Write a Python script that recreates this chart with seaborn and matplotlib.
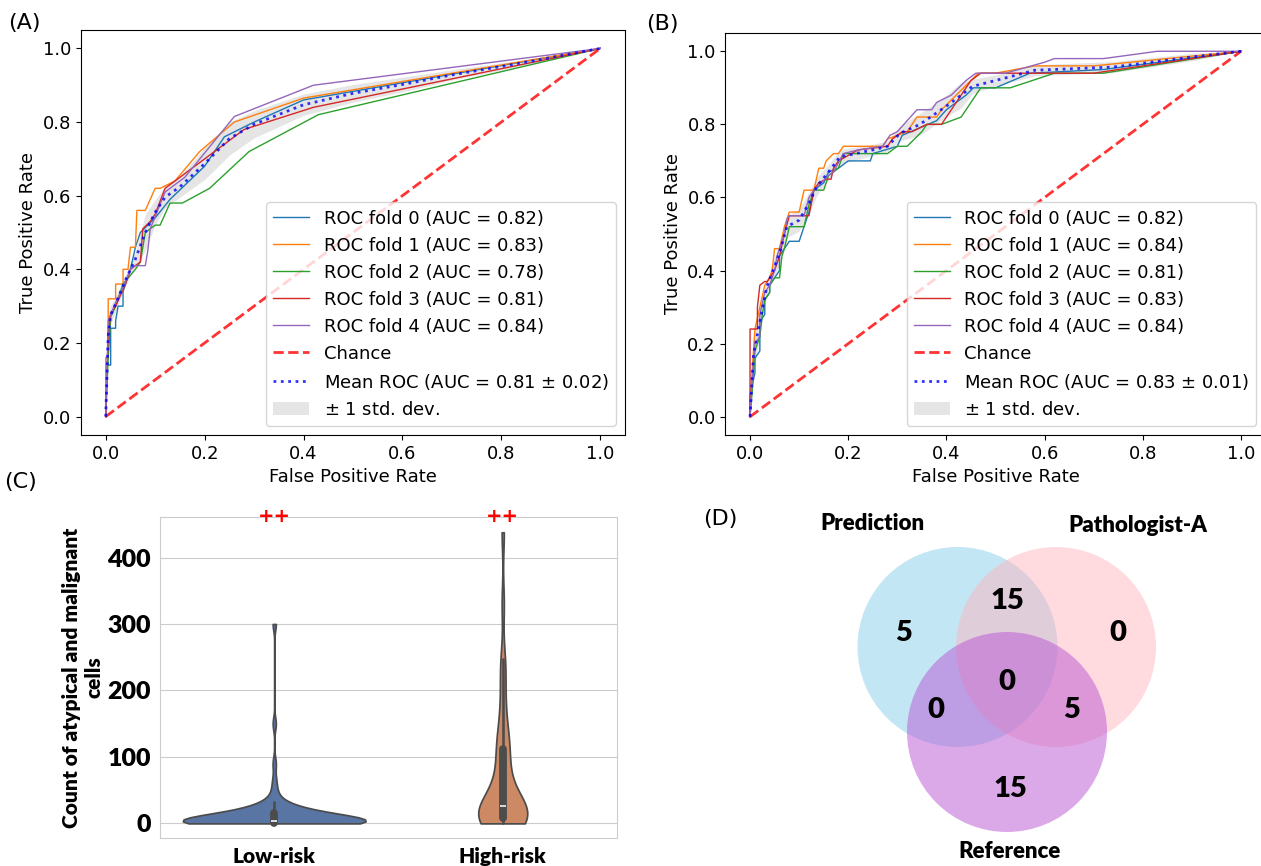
import numpy as np
import pandas as pd
import matplotlib
matplotlib.use("Agg")
import matplotlib.pyplot as plt
import matplotlib.transforms as mtransforms
from matplotlib.patches import Circle
import seaborn as sns

# ---------------- (A) ROC curves, 5 folds ----------------
auc_a = [0.82, 0.83, 0.78, 0.81, 0.84]
fpr_a = [
    [0, 0, 0.01, 0.01, 0.02, 0.02, 0.025, 0.035, 0.035, 0.05, 0.06, 0.07, 0.10, 0.13, 0.20, 0.24, 0.30, 0.40, 1.0],
    [0, 0, 0.005, 0.005, 0.02, 0.02, 0.035, 0.035, 0.045, 0.05, 0.06, 0.063, 0.08, 0.10, 0.11, 0.14, 0.19, 0.26, 0.40, 1.0],
    [0, 0.005, 0.01, 0.02, 0.035, 0.06, 0.07, 0.08, 0.10, 0.11, 0.13, 0.155, 0.21, 0.29, 0.43, 1.0],
    [0, 0.005, 0.01, 0.02, 0.03, 0.04, 0.05, 0.07, 0.075, 0.09, 0.10, 0.12, 0.15, 0.20, 0.28, 0.42, 1.0],
    [0, 0.005, 0.02, 0.035, 0.05, 0.06, 0.08, 0.085, 0.09, 0.12, 0.16, 0.26, 0.42, 1.0],
]
tpr_a = [
    [0, 0.14, 0.14, 0.24, 0.24, 0.26, 0.30, 0.30, 0.34, 0.40, 0.46, 0.50, 0.54, 0.59, 0.68, 0.76, 0.80, 0.86, 1.0],
    [0, 0.16, 0.16, 0.32, 0.32, 0.36, 0.36, 0.40, 0.40, 0.46, 0.46, 0.56, 0.56, 0.62, 0.62, 0.64, 0.72, 0.80, 0.865, 1.0],
    [0, 0.16, 0.27, 0.30, 0.36, 0.40, 0.42, 0.50, 0.52, 0.52, 0.58, 0.58, 0.62, 0.72, 0.82, 1.0],
    [0, 0.22, 0.28, 0.30, 0.33, 0.36, 0.40, 0.42, 0.51, 0.53, 0.55, 0.62, 0.65, 0.70, 0.78, 0.84, 1.0],
    [0, 0.26, 0.31, 0.35, 0.40, 0.41, 0.41, 0.45, 0.51, 0.61, 0.65, 0.815, 0.90, 1.0],
]
mean_fpr_a = [0, 0.005, 0.01, 0.02, 0.04, 0.06, 0.08, 0.10, 0.12, 0.15, 0.20, 0.25, 0.30,
              0.40, 0.50, 0.60, 0.70, 0.80, 0.90, 1.0]
mean_tpr_a = [0, 0.22, 0.276, 0.306, 0.371, 0.428, 0.50, 0.555, 0.596, 0.624, 0.687, 0.755, 0.794,
              0.847, 0.878, 0.902, 0.928, 0.951, 0.975, 1.0]
std_tpr_a = [0, 0.06, 0.026, 0.02, 0.015, 0.02, 0.05, 0.034, 0.03, 0.028, 0.043, 0.045, 0.037,
             0.029, 0.024, 0.02, 0.014, 0.01, 0.005, 0]
mean_auc_a = ("0.81", "0.02")

# ---------------- (B) ROC curves, 5 folds ----------------
auc_b = [0.82, 0.84, 0.81, 0.83, 0.84]
fpr_b = [
    [0, 0, 0.01, 0.01, 0.02, 0.02, 0.03, 0.03, 0.04, 0.04, 0.05, 0.06, 0.06, 0.07, 0.08, 0.10, 0.11,
     0.12, 0.13, 0.15, 0.16, 0.18, 0.20, 0.245, 0.25, 0.30, 0.31, 0.38, 0.40, 0.44, 0.455, 0.50, 0.57, 0.72, 1.0],
    [0, 0.005, 0.01, 0.02, 0.03, 0.04, 0.045, 0.05, 0.06, 0.07, 0.075, 0.08, 0.10, 0.11, 0.13, 0.14,
     0.15, 0.155, 0.17, 0.18, 0.19, 0.27, 0.28, 0.32, 0.34, 0.38, 0.39, 0.42, 0.45, 0.465, 0.50, 0.58, 0.70, 1.0],
    [0, 0.005, 0.01, 0.02, 0.025, 0.03, 0.04, 0.04, 0.05, 0.06, 0.065, 0.07, 0.08, 0.11, 0.12, 0.13,
     0.15, 0.16, 0.18, 0.19, 0.28, 0.30, 0.32, 0.35, 0.36, 0.39, 0.43, 0.47, 0.53, 0.62, 0.72, 1.0],
    [0, 0, 0.015, 0.015, 0.02, 0.03, 0.035, 0.04, 0.05, 0.06, 0.07, 0.08, 0.12, 0.13, 0.14, 0.155,
     0.165, 0.17, 0.18, 0.22, 0.28, 0.29, 0.31, 0.33, 0.36, 0.39, 0.42, 0.45, 0.47, 0.58, 0.70, 1.0],
    [0, 0.005, 0.01, 0.02, 0.02, 0.03, 0.04, 0.05, 0.055, 0.06, 0.07, 0.075, 0.08, 0.11, 0.12, 0.13,
     0.16, 0.17, 0.19, 0.22, 0.27, 0.285, 0.30, 0.34, 0.37, 0.38, 0.41, 0.44, 0.46, 0.52, 0.60, 0.62,
     0.72, 0.83, 1.0],
]
tpr_b = [
    [0, 0.06, 0.12, 0.16, 0.18, 0.26, 0.28, 0.32, 0.34, 0.36, 0.38, 0.40, 0.44, 0.46, 0.48, 0.48, 0.52,
     0.56, 0.62, 0.64, 0.67, 0.68, 0.70, 0.70, 0.72, 0.74, 0.77, 0.81, 0.84, 0.88, 0.90, 0.90, 0.94, 0.95, 1.0],
    [0, 0.14, 0.24, 0.30, 0.36, 0.38, 0.40, 0.46, 0.46, 0.52, 0.54, 0.56, 0.56, 0.62, 0.62, 0.68,
     0.68, 0.70, 0.72, 0.72, 0.74, 0.74, 0.76, 0.78, 0.82, 0.82, 0.84, 0.88, 0.92, 0.94, 0.94, 0.96, 0.96, 1.0],
    [0, 0.08, 0.18, 0.22, 0.28, 0.32, 0.34, 0.36, 0.38, 0.38, 0.44, 0.46, 0.52, 0.52, 0.58, 0.62,
     0.62, 0.66, 0.68, 0.72, 0.72, 0.74, 0.74, 0.78, 0.80, 0.80, 0.82, 0.90, 0.90, 0.94, 0.94, 1.0],
    [0, 0.24, 0.24, 0.30, 0.36, 0.37, 0.37, 0.38, 0.40, 0.44, 0.50, 0.55, 0.55, 0.62, 0.64, 0.65,
     0.65, 0.68, 0.70, 0.73, 0.74, 0.76, 0.78, 0.78, 0.80, 0.80, 0.86, 0.92, 0.94, 0.94, 0.94, 1.0],
    [0, 0.12, 0.20, 0.22, 0.28, 0.34, 0.36, 0.40, 0.44, 0.46, 0.50, 0.54, 0.55, 0.55, 0.60, 0.62,
     0.66, 0.67, 0.72, 0.73, 0.74, 0.77, 0.78, 0.84, 0.84, 0.86, 0.88, 0.92, 0.94, 0.94, 0.97, 0.98,
     0.98, 1.0, 1.0],
]
mean_fpr_b = [0, 0.007, 0.02, 0.034, 0.06, 0.075, 0.10, 0.12, 0.136, 0.163, 0.183, 0.25, 0.28,
              0.305, 0.346, 0.373, 0.40, 0.43, 0.453, 0.50, 0.58, 0.74, 0.905, 1.0]
mean_tpr_b = [0, 0.17, 0.26, 0.355, 0.447, 0.52, 0.538, 0.584, 0.63, 0.675, 0.711, 0.73, 0.74,
              0.775, 0.80, 0.825, 0.85, 0.88, 0.904, 0.92, 0.948, 0.957, 0.985, 1.0]
std_tpr_b = [0, 0.05, 0.04, 0.02, 0.03, 0.03, 0.03, 0.03, 0.025, 0.02, 0.02, 0.015, 0.015,
             0.02, 0.03, 0.03, 0.03, 0.035, 0.02, 0.015, 0.015, 0.015, 0.01, 0]
mean_auc_b = ("0.83", "0.01")

# ---------------- (C) violin data ----------------
risk_groups = ["Low-risk", "High-risk"]
low_values = [0, 1, 2, 3, 4, 5, 7, 9, 12, 15, 18, 21, 25, 28, 32, 40, 50, 65, 90, 150, 300]
low_counts = [18, 8, 6, 5, 5, 4, 4, 4, 4, 4, 3, 3, 2, 2, 1, 1, 1, 1, 1, 1, 1]
high_values = [0, 0, 1, 2, 3, 3, 4, 5, 6, 7,
               8, 9, 10, 12, 14, 16, 18, 20, 22, 24,
               28, 32, 38, 45, 52, 60, 70, 80, 95, 110,
               115, 120, 130, 150, 170, 200, 230, 248, 330, 438]
sig_marks = ["++", "++"]

# ---------------- (D) Venn counts ----------------
venn_sets = ["Prediction", "Pathologist-A", "Reference"]
venn_counts = {"100": 5, "110": 15, "010": 0, "111": 0, "101": 0, "011": 5, "001": 15}


def draw_roc(ax, fprs, tprs, aucs, mfpr, mtpr, stpr, mauc):
    colors = sns.color_palette("tab10")
    for i, (f, t, a) in enumerate(zip(fprs, tprs, aucs)):
        sns.lineplot(x=f, y=t, ax=ax, sort=False, estimator=None, color=colors[i],
                     lw=1, label=f"ROC fold {i} (AUC = {a:.2f})")
    ax.plot([0, 1], [0, 1], linestyle="--", lw=2, color="r", alpha=0.8, label="Chance")
    mtpr = np.array(mtpr)
    stpr = np.array(stpr)
    ax.plot(mfpr, mtpr, color="b", linestyle=":", lw=2, alpha=0.8,
            label=f"Mean ROC (AUC = {mauc[0]} $\\pm$ {mauc[1]})")
    upper = np.minimum(mtpr + stpr, 1)
    lower = np.maximum(mtpr - stpr, 0)
    ax.fill_between(mfpr, lower, upper, color="grey", alpha=0.2, lw=0,
                    label=r"$\pm$ 1 std. dev.")
    ax.set_xlim(-0.05, 1.05)
    ax.set_ylim(-0.05, 1.05)
    ax.set_xticks(np.arange(0, 1.01, 0.2))
    ax.set_yticks(np.arange(0, 1.01, 0.2))
    ax.tick_params(labelsize=13)
    ax.set_xlabel("False Positive Rate", fontsize=13)
    ax.set_ylabel("True Positive Rate", fontsize=13)
    ax.legend(loc="lower right", fontsize=13)


plt.rcParams["mathtext.fontset"] = "dejavusans"
W, H = 1261, 866
fig = plt.figure(figsize=(W / 100, H / 100), dpi=100)

ax_a = fig.add_axes([81 / W, 1 - 435 / H, 544 / W, 405 / H])
draw_roc(ax_a, fpr_a, tpr_a, auc_a, mean_fpr_a, mean_tpr_a, std_tpr_a, mean_auc_a)

ax_b = fig.add_axes([725.5 / W, 1 - 435 / H, 540 / W, 402 / H])
draw_roc(ax_b, fpr_b, tpr_b, auc_b, mean_fpr_b, mean_tpr_b, std_tpr_b, mean_auc_b)

# ---------------- (C) violin ----------------
df_c = pd.DataFrame({
    "group": ["Low-risk"] * int(np.sum(low_counts)) + ["High-risk"] * len(high_values),
    "count": list(np.repeat(low_values, low_counts)) + high_values,
})
bold_font = dict(family="Lato", weight="heavy")
with sns.axes_style("whitegrid"):
    ax_c = fig.add_axes([160 / W, 1 - 838 / H, 457 / W, 321 / H])
    sns.violinplot(data=df_c, x="group", y="count", hue="group", order=risk_groups,
                   hue_order=risk_groups, palette="deep", cut=0, inner="box",
                   bw_adjust=0.6, common_norm=True, legend=False, ax=ax_c)
ax_c.set_ylim(-22, 461)
ax_c.set_yticks([0, 100, 200, 300, 400])
ax_c.set_xlabel("")
ax_c.set_ylabel("Count of atypical and malignant\ncells", fontsize=15, labelpad=3,
                color="black", **bold_font)
for lab in ax_c.get_yticklabels():
    lab.set_fontfamily("Lato")
    lab.set_fontweight("heavy")
    lab.set_fontsize(18)
    lab.set_color("black")
for lab in ax_c.get_xticklabels():
    lab.set_fontfamily("Lato")
    lab.set_fontweight("heavy")
    lab.set_fontsize(15)
    lab.set_color("black")
ax_c.tick_params(axis="y", pad=3)
ax_c.tick_params(axis="x", pad=3)
trans = mtransforms.blended_transform_factory(ax_c.transData, ax_c.transAxes)
for i, mark in enumerate(sig_marks):
    ax_c.text(i, 1.0, mark, transform=trans, ha="center", va="center", color="red",
              fontsize=14, fontweight="bold", family="DejaVu Sans")

# ---------------- (D) Venn ----------------
ax_d = fig.add_axes([690 / W, 0, 571 / W, 376 / H])
ax_d.set_xlim(-3.17, 2.54)
ax_d.set_ylim(-2.19, 1.57)
ax_d.axis("off")
circle_centers = [(-0.495, 0.0), (0.49, 0.0), (0.0, -0.85)]
circle_colors = ["skyblue", "lightpink", "mediumorchid"]
for (cx, cy), col in zip(circle_centers, circle_colors):
    ax_d.add_patch(Circle((cx, cy), 1.0, facecolor=col, edgecolor="none", alpha=0.5))
count_pos = {"100": (-1.03, 0.14), "110": (0.0, 0.46), "010": (1.11, 0.14), "111": (0.0, -0.35),
             "101": (-0.71, -0.63), "011": (0.645, -0.63), "001": (0.03, -1.42)}
for key, val in venn_counts.items():
    x, y = count_pos[key]
    ax_d.text(x, y, str(val), ha="center", va="center", fontsize=21, **bold_font)
label_pos = [(-1.35, 1.24), (1.31, 1.22), (0.03, -2.05)]
for name, (x, y) in zip(venn_sets, label_pos):
    ax_d.text(x, y, name, ha="center", va="center", fontsize=16, **bold_font)

# panel letters
for letter, (px, py) in zip(["(A)", "(B)", "(C)", "(D)"],
                            [(8, 23), (646, 24), (4, 482), (703, 519)]):
    fig.text(px / W, 1 - py / H, letter, ha="left", va="center", fontsize=16,
             family="DejaVu Sans")

fig.savefig("out.png", dpi=100)
